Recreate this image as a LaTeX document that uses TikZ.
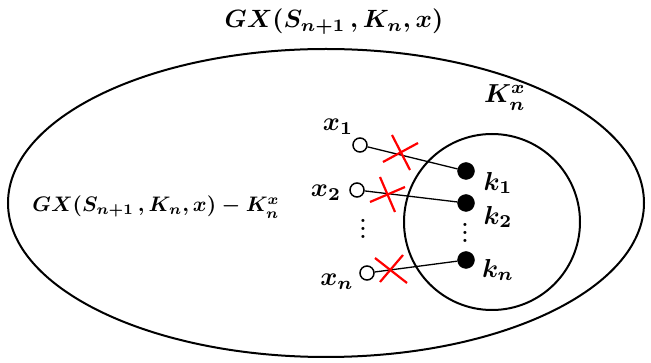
\documentclass[tikz,border=0pt]{standalone}
\usepackage{graphicx}
\usepackage{amsmath}
\newcommand{\sbx}[2]{\scalebox{#1}{\boldmath$#2$}}
\begin{document}
\begin{tikzpicture}[x=1pt,y=-1pt,
  opendot/.style={circle,draw,line width=1.5pt,fill=white,inner sep=0pt,minimum size=14pt},
  fulldot/.style={circle,draw,fill=black,inner sep=0pt,minimum size=17pt},
  lbl/.style={inner sep=0pt},
  link/.style={line width=1.3pt},
  cross/.style={red,line width=2.2pt}]
\useasboundingbox (0,0) rectangle (651,363);
\draw[line width=2pt] (326,203) ellipse [x radius=318, y radius=154];
\draw[line width=2pt] (492,222) circle [radius=88];
\node[lbl] (title) at (334,22) {\sbx{2.5}{GX(S_{n+1}\,,K_n,x)}};
\node[lbl] (rest) at (156,207) {\sbx{2.1}{GX(S_{n+1}\,,K_n,x)-K_n^x}};
\node[lbl] (Kx) at (505,98) {\sbx{2.6}{K_n^x}};
% open dots
\node[opendot] (x1) at (360,145) {};
\node[opendot] (x2) at (357,190) {};
\node[opendot] (xn) at (367,273) {};
% full dots
\node[fulldot] (k1) at (466,171) {};
\node[fulldot] (k2) at (466,203) {};
\node[fulldot] (kn) at (466,260) {};
% labels
\node[lbl] (lx1) at (338,127) {\sbx{2.6}{x_1}};
\node[lbl] (lx2) at (326,193) {\sbx{2.6}{x_2}};
\node[lbl] (lxn) at (337,282) {\sbx{2.6}{x_n}};
\node[lbl] (lk1) at (498,183) {\sbx{2.6}{k_1}};
\node[lbl] (lk2) at (498,217) {\sbx{2.6}{k_2}};
\node[lbl] (lkn) at (498,270) {\sbx{2.6}{k_n}};
\node[lbl,anchor=base] (vd1) at (363,239) {\scalebox{2}{\bfseries\vdots}};
\node[lbl,anchor=base] (vd2) at (465,243) {\scalebox{2}{\bfseries\vdots}};
% links
\draw[link] (x1) -- (k1);
\draw[link] (x2) -- (k2);
\draw[link] (xn) -- (kn);
% crosses
\draw[cross] (392,135) -- (410,170) (383,162) -- (418,143);
\draw[cross] (380,177) -- (395,212) (370,202) -- (405,187);
\draw[cross] (375,258) -- (407,283) (380,282) -- (403,255);
\end{tikzpicture}
\end{document}
